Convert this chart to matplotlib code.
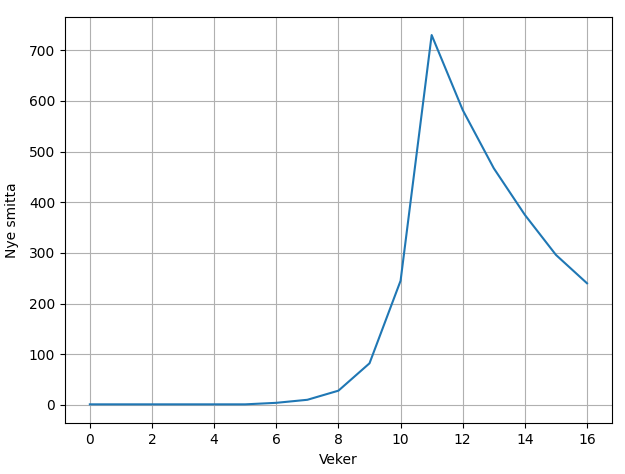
import matplotlib
matplotlib.use('Agg')
import matplotlib.pyplot as plt
import numpy as np

# uker og nye smitta
veker = np.arange(0, 17)
nye_smitta = [1, 1, 1, 1, 1, 1, 4, 10, 28, 82, 245, 730, 582, 467, 375, 296, 240]

fig = plt.figure(figsize=(6.25, 4.74), dpi=100)
plt.plot(veker, nye_smitta)
plt.xticks(np.arange(0, 17, 2))
plt.xlabel("Veker", labelpad=5)
plt.ylabel("Nye smitta", labelpad=7)
plt.grid()
plt.subplots_adjust(left=0.104, right=0.979, top=0.965, bottom=0.108)
plt.savefig('out.png', dpi=100)
